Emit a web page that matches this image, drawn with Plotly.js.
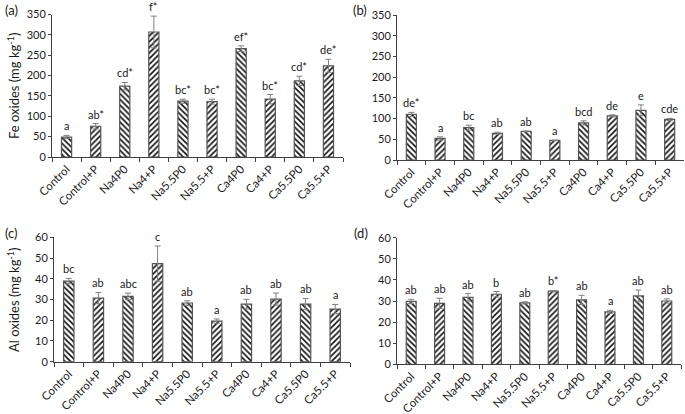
<!DOCTYPE html>
<html><head><meta charset="utf-8">
<script src="https://cdn.plot.ly/plotly-3.0.1.min.js"></script>
<style>html,body{margin:0;padding:0;background:#fff}#c{width:685px;height:414px}</style>
</head><body><div id="c"></div>
<script>
const categories = ["Control","Control+P","Na4P0","Na4+P","Na5.5P0","Na5.5+P","Ca4P0","Ca4+P","Ca5.5P0","Ca5.5+P"];
const hatch = ["\\","/","\\","/","\\","/","\\","/","\\","/"];

const feA = [49,75.5,174,307,137,136,266,142,187,224];
const feAErr = [4,6.5,9,39,5,6,7,11.5,11.5,16];
const feALab = ["a","ab*","cd*","f*","bc*","bc*","ef*","bc*","cd*","de*"];

const feB = [110,52,78,64.5,69,47.6,89.5,106.5,120,98];
const feBErr = [5,4,6,2.5,1,0.5,5,2.5,13,2.5];
const feBLab = ["de*","a","bc","ab","ab","a","bcd","de","e","cde"];

const alC = [38.9,30.7,31.5,47.3,28.3,19.6,27.8,30.2,27.8,25.4];
const alCErr = [1.3,2.7,1.6,8.5,1.1,1,2.3,2.9,2.7,2.2];
const alCLab = ["bc","ab","abc","c","ab","a","ab","ab","ab","a"];

const alD = [29.8,28.9,31.7,33.2,29.1,34.7,30.5,24.8,32.4,30];
const alDErr = [1,2.4,1.8,1.3,0.5,0.3,2.2,0.8,2.8,1];
const alDLab = ["ab","ab","ab","b","ab","b*","ab","a","ab","ab"];

const W = 685, H = 414;
const px = v => v / W, py = v => (H - v) / H;
const FONT = "Lato, 'Open Sans', sans-serif";

const panels = [
  {vals: feA, err: feAErr, lab: feALab, xd: [52, 343], yd: [157, 14.5], range: [0, 350], dtick: 50},
  {vals: feB, err: feBErr, lab: feBLab, xd: [397, 684], yd: [160, 15], range: [0, 350], dtick: 50},
  {vals: alC, err: alCErr, lab: alCLab, xd: [54, 350], yd: [361.7, 237.3], range: [0, 60], dtick: 10},
  {vals: alD, err: alDErr, lab: alDLab, xd: [397, 681], yd: [364.3, 237.7], range: [0, 60], dtick: 10}
];

const data = [], annotations = [];
const layout = {
  width: W, height: H, margin: {l: 0, r: 0, t: 0, b: 0},
  paper_bgcolor: "#fff", plot_bgcolor: "#fff", showlegend: false,
  font: {family: FONT, size: 11, color: "#1a1a1a"}
};

panels.forEach((p, i) => {
  const n = i + 1;
  const xa = "x" + (n === 1 ? "" : n), ya = "y" + (n === 1 ? "" : n);
  const xk = "xaxis" + (n === 1 ? "" : n), yk = "yaxis" + (n === 1 ? "" : n);
  data.push({
    type: "bar", x: categories, y: p.vals, xaxis: xa, yaxis: ya, width: 0.35,
    marker: {color: "#fff", line: {color: "#555", width: 1.2},
      pattern: {shape: hatch, fgcolor: "#111", bgcolor: "#fff", size: 4, solidity: 0.4}},
    error_y: {type: "data", array: p.err, visible: true, color: "#808080", thickness: 1, width: 3},
    hoverinfo: "skip"
  });
  layout[xk] = {
    domain: [px(p.xd[0]), px(p.xd[1])], anchor: ya, type: "category",
    range: [-0.5, 9.5], showline: true, linecolor: "#404040", linewidth: 1,
    ticks: "outside", tickson: "boundaries", ticklen: 4, tickcolor: "#404040",
    tickangle: -45, tickfont: {family: FONT, size: 11.5, color: "#1a1a1a"}, showgrid: false, automargin: false
  };
  layout[yk] = {
    domain: [py(p.yd[0]), py(p.yd[1])], anchor: xa, range: p.range, dtick: p.dtick,
    showline: true, linecolor: "#404040", linewidth: 1, ticks: "outside", ticklen: 3,
    tickcolor: "#404040", tickfont: {family: FONT, size: 11, color: "#1a1a1a"},
    showgrid: false, zeroline: false, automargin: false
  };
  p.lab.forEach((t, j) => {
    annotations.push({xref: xa, yref: ya, x: categories[j], y: p.vals[j] + p.err[j],
      text: t, showarrow: false, yanchor: "bottom", yshift: 1,
      font: {family: FONT, size: 11, color: "#1a1a1a"}});
  });
});

const panelLabels = [["(a)", 3, 10], ["(b)", 351, 10], ["(c)", 3, 233], ["(d)", 352, 233]];
panelLabels.forEach(([t, x, y]) => annotations.push({xref: "paper", yref: "paper", x: px(x), y: py(y),
  xanchor: "left", yanchor: "middle", text: t, showarrow: false, font: {family: FONT, size: 13, color: "#1a1a1a"}}));

annotations.push({xref: "paper", yref: "paper", x: px(13), y: py(86), text: "Fe oxides (mg kg<sup>-1</sup>)",
  textangle: -90, showarrow: false, xanchor: "center", yanchor: "middle", font: {family: FONT, size: 13, color: "#1a1a1a"}});
annotations.push({xref: "paper", yref: "paper", x: px(13), y: py(300), text: "Al oxides (mg kg<sup>-1</sup>)",
  textangle: -90, showarrow: false, xanchor: "center", yanchor: "middle", font: {family: FONT, size: 13, color: "#1a1a1a"}});

layout.annotations = annotations;
Plotly.newPlot("c", data, layout, {staticPlot: true, displayModeBar: false});
</script></body></html>
